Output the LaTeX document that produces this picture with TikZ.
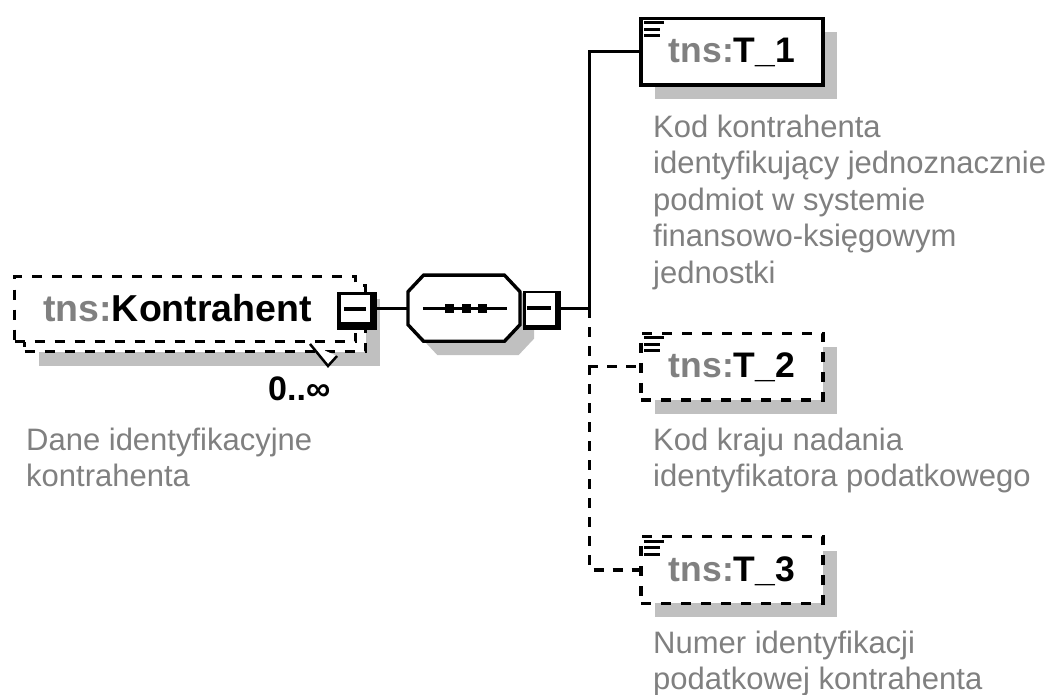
\documentclass[tikz,border=0pt]{standalone}
\usepackage{fontspec}
\setmainfont{Liberation Sans}
\usetikzlibrary{shadows}
\definecolor{shadowc}{HTML}{C0C0C0}
\definecolor{txtgray}{HTML}{808080}
\tikzset{
  shd/.style={drop shadow={shadow xshift=14pt,shadow yshift=-14pt,opacity=1,fill=shadowc}},
  elembox/.style={draw, line width=3.4pt, fill=white, rectangle, inner sep=0pt,
    minimum width=182pt, minimum height=66.5pt, text height=26pt, text depth=4pt,
    font=\fontsize{35.5}{40}\selectfont\bfseries},
  optbox/.style={elembox, dash pattern=on 10pt off 10pt},
  desc/.style={anchor=north west, inner sep=0pt, align=left, text=txtgray,
    font=\fontsize{31}{36.5}\selectfont},
  conn/.style={line width=3.4pt},
  dconn/.style={line width=3.4pt, dash pattern=on 10pt off 9pt},
  minusbox/.style={fill=black, inner sep=0pt, rectangle},
  icon/.style={line width=3pt},
}
\begin{document}
\begin{tikzpicture}[x=1pt,y=-1pt]
\useasboundingbox[fill=white] (0,0) rectangle (1058,695);

% Kontrahent (repeating element)
\node[optbox, shd, minimum width=341pt, minimum height=66.5pt] (kback) at (195,318.5) {};
\node[optbox, minimum width=341pt, minimum height=65pt] (kfront) at (185,309) {};
\node[anchor=base west, inner sep=0pt, font=\fontsize{37.5}{40}\selectfont\bfseries] (ktitle) at (43,321)
  {\textcolor{txtgray}{tns:}Kontrahent};
\node[minusbox, minimum width=40pt, minimum height=38pt] (kminus) at (357,311) {};
\fill[white] ([shift={(4,3)}]kminus.north west) rectangle ([shift={(-7,-8)}]kminus.south east);
\draw[line width=4pt] ([shift={(7,17)}]kminus.north west) -- ([shift={(-11,17)}]kminus.north east);
\filldraw[fill=white, line width=2.5pt] (310,344) -- (328,366) -- (337,356);
\node[anchor=base west, inner sep=0pt, font=\fontsize{34}{36}\selectfont\bfseries] (occ) at (268,400) {0..∞};
\node[desc] (kdesc) at (26,427.8) {Dane identyfikacyjne\\kontrahenta};

% sequence compositor
\node[rectangle, inner sep=0pt, minimum width=112pt, minimum height=66pt] (seq) at (464,308.2) {};
\fill[shadowc] (437.5,289.2) -- (518.5,289.2) -- (534,305.7) -- (534,338.7) -- (518.5,355.2) -- (437.5,355.2) -- (422,338.7) -- (422,305.7) -- cycle;
\filldraw[fill=white, line width=3.4pt] (423.5,275.2) -- (504.5,275.2) -- (520,291.7) -- (520,324.7) -- (504.5,341.2) -- (423.5,341.2) -- (408,324.7) -- (408,291.7) -- cycle;
\draw[line width=3.4pt] ([xshift=15pt]seq.west) -- ([xshift=-13pt]seq.east);
\foreach \dx in {449,466,482} \fill (\dx-4.5,303.5) rectangle (\dx+4.5,313);
\node[minusbox, minimum width=38pt, minimum height=39pt] (seqminus) at (542,310.5) {};
\fill[white] ([shift={(3,2.5)}]seqminus.north west) rectangle ([shift={(-6,-5)}]seqminus.south east);
\draw[line width=4pt] ([shift={(4,17.5)}]seqminus.north west) -- ([shift={(-10,17.5)}]seqminus.north east);

% children
\node[elembox, shd] (t1) at (732,51.7) {\textcolor{txtgray}{tns:}T\_1};
\node[optbox, shd] (t2) at (732,366.7) {\textcolor{txtgray}{tns:}T\_2};
\node[optbox, shd] (t3) at (732,570) {\textcolor{txtgray}{tns:}T\_3};
\foreach \t in {t1,t2,t3}{
  \draw[icon] ([shift={(5,6)}]\t.north west) -- ([shift={(25,6)}]\t.north west);
  \draw[icon] ([shift={(5,12.5)}]\t.north west) -- ([shift={(21,12.5)}]\t.north west);
  \draw[icon] ([shift={(5,19)}]\t.north west) -- ([shift={(21,19)}]\t.north west);
}

\node[desc] (d1) at (653,114.8) {Kod kontrahenta\\identyfikujący jednoznacznie\\podmiot w systemie\\finansowo-księgowym\\jednostki};
\node[desc] (d2) at (653,427.8) {Kod kraju nadania\\identyfikatora podatkowego};
\node[desc] (d3) at (653,630.8) {Numer identyfikacji\\podatkowej kontrahenta};

% connectors
\coordinate (bus) at (589.5,308.2);
\draw[conn] (kminus.east |- seq.west) -- (seq.west);
\draw[conn] (seqminus.east |- seq.east) -- (bus);
\draw[conn] (bus) |- (t1.west);
\draw[dconn] (bus) |- (t2.west);
\draw[dconn] (bus) |- (t3.west);
\end{tikzpicture}
\end{document}
